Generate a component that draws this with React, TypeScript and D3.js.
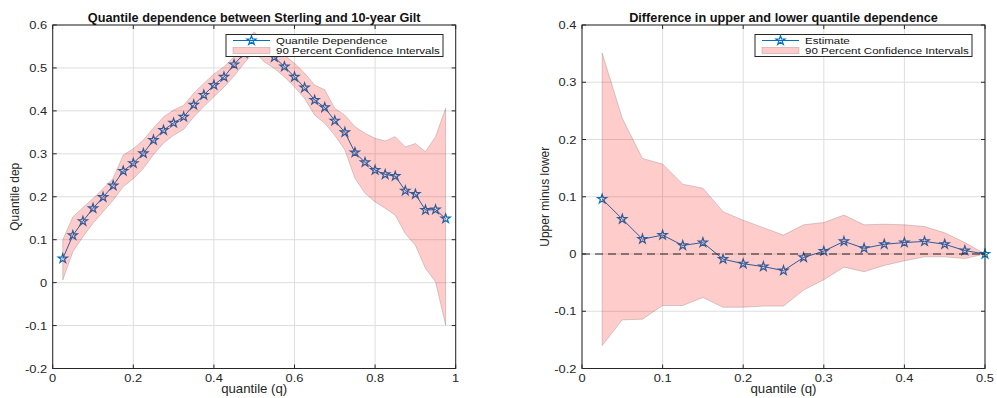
import React, { useRef, useEffect } from "react";
import * as d3 from "d3";

// quantile grid for the left panel (0.025 .. 0.975)
const qLeft = [
  0.025, 0.05, 0.075, 0.1, 0.125, 0.15, 0.175, 0.2, 0.225, 0.25, 0.275, 0.3, 0.325,
  0.35, 0.375, 0.4, 0.425, 0.45, 0.475, 0.5, 0.525, 0.55, 0.575, 0.6, 0.625, 0.65,
  0.675, 0.7, 0.725, 0.75, 0.775, 0.8, 0.825, 0.85, 0.875, 0.9, 0.925, 0.95, 0.975,
];
const depEstimate = [
  0.056, 0.11, 0.143, 0.173, 0.199, 0.226, 0.26, 0.278, 0.301, 0.332, 0.355, 0.372, 0.386,
  0.414, 0.437, 0.46, 0.479, 0.508, 0.534, 0.555, 0.54, 0.525, 0.503, 0.479, 0.454, 0.425,
  0.408, 0.377, 0.35, 0.303, 0.28, 0.262, 0.252, 0.248, 0.214, 0.206, 0.169, 0.17, 0.149,
];
const depUpper = [
  0.1, 0.153, 0.175, 0.196, 0.219, 0.243, 0.297, 0.312, 0.332, 0.36, 0.386, 0.402, 0.413,
  0.441, 0.464, 0.486, 0.503, 0.526, 0.557, 0.584, 0.56, 0.541, 0.53, 0.511, 0.488, 0.46,
  0.449, 0.406, 0.39, 0.363, 0.348, 0.336, 0.33, 0.34, 0.316, 0.324, 0.305, 0.34, 0.406,
];
const depLower = [
  0.006, 0.072, 0.107, 0.138, 0.165, 0.192, 0.223, 0.242, 0.266, 0.298, 0.325, 0.343, 0.357,
  0.386, 0.41, 0.433, 0.455, 0.481, 0.511, 0.538, 0.514, 0.499, 0.479, 0.456, 0.429, 0.39,
  0.371, 0.343, 0.309, 0.243, 0.208, 0.188, 0.173, 0.157, 0.114, 0.087, 0.033, 0.002, -0.099,
];

// right panel (0.025 .. 0.5)
const qRight = [
  0.025, 0.05, 0.075, 0.1, 0.125, 0.15, 0.175, 0.2, 0.225, 0.25, 0.275, 0.3, 0.325, 0.35,
  0.375, 0.4, 0.425, 0.45, 0.475, 0.5,
];
const diffEstimate = [
  0.096, 0.061, 0.026, 0.033, 0.015, 0.02, -0.009, -0.017, -0.022, -0.029, -0.006, 0.005,
  0.022, 0.01, 0.017, 0.02, 0.022, 0.017, 0.006, 0.0,
];
const diffUpper = [
  0.351, 0.237, 0.167, 0.157, 0.122, 0.115, 0.074, 0.059, 0.046, 0.033, 0.051, 0.055, 0.068,
  0.051, 0.052, 0.051, 0.048, 0.037, 0.02, 0.0,
];
const diffLower = [
  -0.16, -0.115, -0.114, -0.09, -0.09, -0.076, -0.093, -0.093, -0.091, -0.091, -0.063, -0.045,
  -0.023, -0.031, -0.02, -0.012, -0.005, -0.005, -0.008, 0.0,
];

const xTicksLeft = [0, 0.2, 0.4, 0.6, 0.8, 1];
const yTicksLeft = [-0.2, -0.1, 0, 0.1, 0.2, 0.3, 0.4, 0.5, 0.6];
const xTicksRight = [0, 0.1, 0.2, 0.3, 0.4, 0.5];
const yTicksRight = [-0.2, -0.1, 0, 0.1, 0.2, 0.3, 0.4];

const FONT = "'Liberation Sans', Arial, Helvetica, sans-serif";
const BLUE = "#0072BD";
const INK = "#262626";

type PanelProps = {
  left: number;
  right: number;
  top: number;
  bottom: number;
  xDomain: [number, number];
  yDomain: [number, number];
  xTicks: number[];
  yTicks: number[];
  q: number[];
  est: number[];
  up: number[];
  lo: number[];
  title: string;
  ylabel: string;
  ylabelX: number;
  legendLabel: string;
  legendX: number;
  legendW: number;
  zeroLine?: boolean;
};

// the exported figure is a bit wider than tall, so text is stretched horizontally
function stretched(sel: any, x: number, y: number, sx: number, rot = 0) {
  return sel
    .append("text")
    .attr("x", 0)
    .attr("y", 0)
    .attr(
      "transform",
      rot ? `translate(${x},${y}) rotate(${rot}) scale(1,${sx})` : `translate(${x},${y}) scale(${sx},1)`
    );
}

function Panel(p: PanelProps) {
  const ref = useRef<SVGGElement>(null);

  useEffect(() => {
    const g = d3.select(ref.current);
    g.selectAll("*").remove();

    const x = d3.scaleLinear().domain(p.xDomain).range([p.left, p.right]);
    const y = d3.scaleLinear().domain(p.yDomain).range([p.bottom, p.top]);
    const fmt = (v: number) => (v === 0 ? "0" : String(+v.toFixed(1)));

    // grid
    g.append("g")
      .selectAll("line")
      .data(p.xTicks)
      .join("line")
      .attr("x1", (d) => x(d))
      .attr("x2", (d) => x(d))
      .attr("y1", p.top)
      .attr("y2", p.bottom)
      .attr("stroke", "#dedede")
      .attr("stroke-width", 1);
    g.append("g")
      .selectAll("line")
      .data(p.yTicks)
      .join("line")
      .attr("x1", p.left)
      .attr("x2", p.right)
      .attr("y1", (d) => y(d))
      .attr("y2", (d) => y(d))
      .attr("stroke", "#dedede")
      .attr("stroke-width", 1);

    const pts = p.q.map((qq, i) => ({ q: qq, e: p.est[i], u: p.up[i], l: p.lo[i] }));

    // estimate line + stars (under the translucent band, as in the original)
    const line = d3
      .line<{ q: number; e: number }>()
      .x((d) => x(d.q))
      .y((d) => y(d.e));
    g.append("path")
      .datum(pts)
      .attr("d", line)
      .attr("fill", "none")
      .attr("stroke", BLUE)
      .attr("stroke-width", 1);

    const star = d3.symbol(d3.symbolStar, 26);
    g.append("g")
      .selectAll("path")
      .data(pts)
      .join("path")
      .attr("d", star)
      .attr("transform", (d) => `translate(${x(d.q)},${y(d.e)})`)
      .attr("fill", "none")
      .attr("stroke", BLUE)
      .attr("stroke-width", 1.2);

    // confidence band
    const area = d3
      .area<{ q: number; u: number; l: number }>()
      .x((d) => x(d.q))
      .y0((d) => y(d.l))
      .y1((d) => y(d.u));
    g.append("path")
      .datum(pts)
      .attr("d", (d) => area(d) + "Z")
      .attr("fill", "rgba(255,0,0,0.2)")
      .attr("stroke", "rgba(60,40,40,0.25)")
      .attr("stroke-width", 0.8);

    if (p.zeroLine) {
      g.append("line")
        .attr("x1", x(0))
        .attr("x2", x(p.xDomain[1]))
        .attr("y1", y(0))
        .attr("y2", y(0))
        .attr("stroke", "#222")
        .attr("stroke-width", 1)
        .attr("stroke-dasharray", "8,5");
    }

    // box
    g.append("rect")
      .attr("x", p.left)
      .attr("y", p.top)
      .attr("width", p.right - p.left)
      .attr("height", p.bottom - p.top)
      .attr("fill", "none")
      .attr("stroke", INK)
      .attr("stroke-width", 1);

    // ticks inside on all four sides
    const tl = 4;
    p.xTicks.forEach((t) => {
      g.append("line").attr("x1", x(t)).attr("x2", x(t)).attr("y1", p.bottom).attr("y2", p.bottom - tl).attr("stroke", INK);
      g.append("line").attr("x1", x(t)).attr("x2", x(t)).attr("y1", p.top).attr("y2", p.top + tl).attr("stroke", INK);
    });
    p.yTicks.forEach((t) => {
      g.append("line").attr("x1", p.left).attr("x2", p.left + tl).attr("y1", y(t)).attr("y2", y(t)).attr("stroke", INK);
      g.append("line").attr("x1", p.right).attr("x2", p.right - tl).attr("y1", y(t)).attr("y2", y(t)).attr("stroke", INK);
    });

    // tick labels
    p.xTicks.forEach((t) => {
      stretched(g, x(t), p.bottom + 13, 1.12)
        .attr("text-anchor", "middle")
        .attr("font-size", 11.5)
        .attr("fill", INK)
        .text(fmt(t));
    });
    p.yTicks.forEach((t) => {
      stretched(g, p.left - 5.5, y(t) + 4, 1.12)
        .attr("text-anchor", "end")
        .attr("font-size", 11.5)
        .attr("fill", INK)
        .text(fmt(t));
    });

    // labels
    stretched(g, (p.left + p.right) / 2, p.bottom + 24, 1.1)
      .attr("text-anchor", "middle")
      .attr("font-size", 12)
      .attr("fill", INK)
      .text("quantile (q)");
    stretched(g, p.ylabelX, (p.top + p.bottom) / 2, 1.0, -90)
      .attr("text-anchor", "middle")
      .attr("font-size", 12)
      .attr("fill", INK)
      .text(p.ylabel);
    stretched(g, (p.left + p.right) / 2, p.top - 3.5, 1.06)
      .attr("text-anchor", "middle")
      .attr("font-size", 12)
      .attr("font-weight", "bold")
      .attr("fill", "#111")
      .text(p.title);

    // legend
    const lx = p.legendX;
    const ly = p.top + 9.5;
    const lg = g.append("g");
    lg.append("rect")
      .attr("x", lx)
      .attr("y", ly)
      .attr("width", p.legendW)
      .attr("height", 22)
      .attr("fill", "#fff")
      .attr("stroke", INK)
      .attr("stroke-width", 1);
    lg.append("line")
      .attr("x1", lx + 7)
      .attr("x2", lx + 44)
      .attr("y1", ly + 6)
      .attr("y2", ly + 6)
      .attr("stroke", BLUE)
      .attr("stroke-width", 1);
    lg.append("path")
      .attr("d", star)
      .attr("transform", `translate(${lx + 25.5},${ly + 6})`)
      .attr("fill", "none")
      .attr("stroke", BLUE)
      .attr("stroke-width", 1.2);
    lg.append("rect")
      .attr("x", lx + 7)
      .attr("y", ly + 13)
      .attr("width", 37)
      .attr("height", 6)
      .attr("fill", "rgba(255,0,0,0.2)")
      .attr("stroke", "rgba(60,40,40,0.25)")
      .attr("stroke-width", 0.8);
    stretched(lg, lx + 50, ly + 9.2, 1.2)
      .attr("font-size", 9.6)
      .attr("fill", "#111")
      .text(p.legendLabel);
    stretched(lg, lx + 50, ly + 19.6, 1.2)
      .attr("font-size", 9.6)
      .attr("fill", "#111")
      .text("90 Percent Confidence Intervals");
  }, []);

  return <g ref={ref} />;
}

export default function App() {
  return (
    <div style={{ position: "absolute", left: 0, top: 0 }}>
      <svg width={997} height={398} style={{ display: "block", fontFamily: FONT, background: "#fff" }}>
        <Panel
          left={52.7}
          right={455.7}
          top={25}
          bottom={368.5}
          xDomain={[0, 1]}
          yDomain={[-0.2, 0.6]}
          xTicks={xTicksLeft}
          yTicks={yTicksLeft}
          q={qLeft}
          est={depEstimate}
          up={depUpper}
          lo={depLower}
          title="Quantile dependence between Sterling and 10-year Gilt"
          ylabel="Quantile dep"
          ylabelX={19}
          legendLabel="Quantile Dependence"
          legendX={226}
          legendW={217}
        />
        <Panel
          left={582}
          right={985}
          top={25}
          bottom={368.5}
          xDomain={[0, 0.5]}
          yDomain={[-0.2, 0.4]}
          xTicks={xTicksRight}
          yTicks={yTicksRight}
          q={qRight}
          est={diffEstimate}
          up={diffUpper}
          lo={diffLower}
          title="Difference in upper and lower quantile dependence"
          ylabel="Upper minus lower"
          ylabelX={549}
          legendLabel="Estimate"
          legendX={755}
          legendW={217}
          zeroLine
        />
      </svg>
    </div>
  );
}
